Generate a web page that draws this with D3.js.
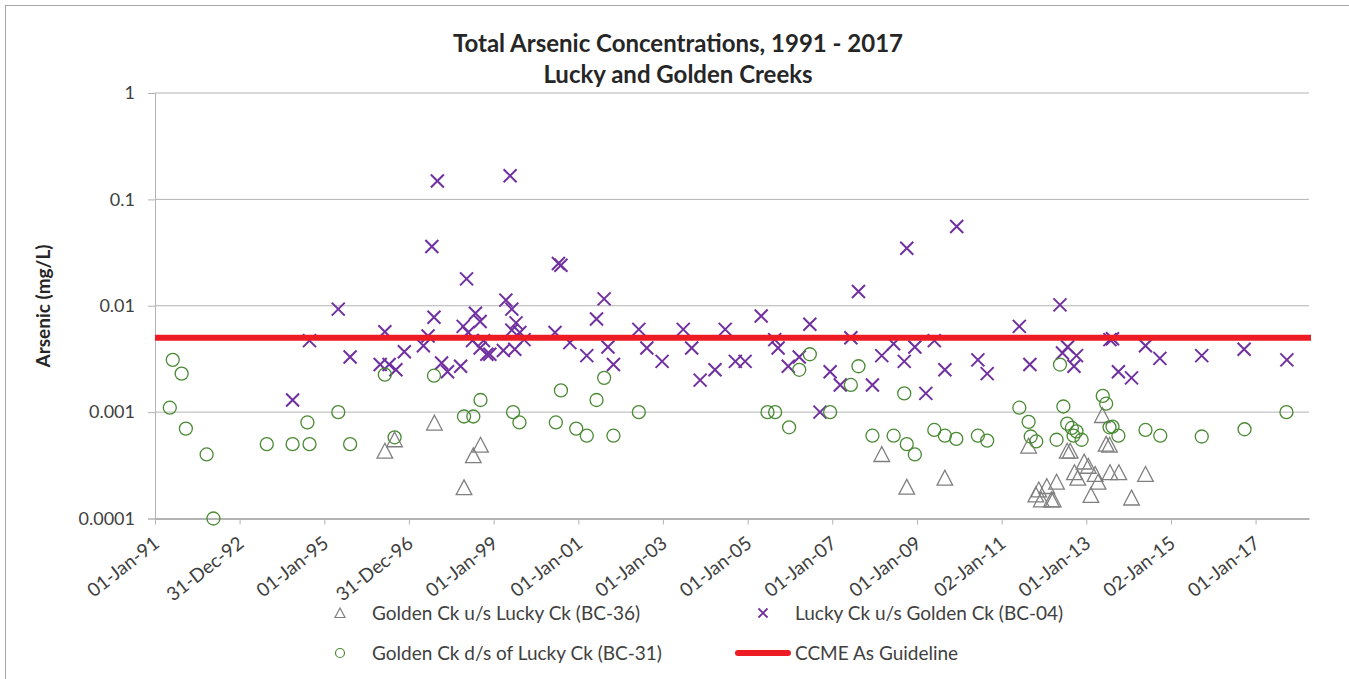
<!DOCTYPE html>
<html>
<head>
<meta charset="utf-8">
<title>Total Arsenic Concentrations</title>
<script src="https://cdn.jsdelivr.net/npm/d3@7/dist/d3.min.js"></script>
<style>
  body { margin: 0; background: #fff; }
  svg text { font-family: Lato, "Open Sans", sans-serif; fill: #404040; }
</style>
</head>
<body>
<svg id="chart" width="1349" height="679"></svg>
<script>
// sample dates as decimal years, values in mg/L
const bc36Years = [1996.43, 1996.66, 1997.60, 1998.30, 1998.52, 1998.69, 2008.17, 2008.76, 2009.66,
  2011.64, 2011.81, 2011.88, 2011.94, 2012.07, 2012.18, 2012.22, 2012.30, 2012.55, 2012.62, 2012.72,
  2012.80, 2012.95, 2013.05, 2013.11, 2013.21, 2013.28, 2013.38, 2013.47, 2013.55, 2013.56, 2013.77,
  2014.07, 2014.40];
const bc36Values = [0.00043, 0.00055, 0.00079, 0.000195, 0.00039, 0.00049, 0.0004, 0.000197, 0.00024,
  0.00048, 0.000167, 0.000186, 0.00015, 0.0002, 0.00015, 0.00015, 0.00022, 0.00043, 0.00043, 0.00027,
  0.00024, 0.00034, 0.00031, 0.000165, 0.00026, 0.00022, 0.00093, 0.0005, 0.00049, 0.00027, 0.00027,
  0.000156, 0.00026];

const bc04Years = [1994.25, 1994.65, 1995.33, 1995.61, 1996.32, 1996.43, 1996.53, 1996.69, 1996.89,
  1997.34, 1997.45, 1997.54, 1997.59, 1997.67, 1997.77, 1997.91, 1998.22, 1998.28, 1998.36, 1998.40,
  1998.50, 1998.57, 1998.68, 1998.68, 1998.76, 1998.84, 1998.91, 1999.23, 1999.29, 1999.39, 1999.43,
  1999.43, 1999.50, 1999.53, 1999.62, 1999.72, 2000.45, 2000.53, 2000.59, 2000.80, 2001.20, 2001.43,
  2001.61, 2001.70, 2001.83, 2002.43, 2002.62, 2002.98, 2003.48, 2003.68, 2003.88, 2004.23, 2004.47,
  2004.71, 2004.94, 2005.32, 2005.64, 2005.72, 2005.96, 2006.22, 2006.47, 2006.71, 2006.95, 2007.19,
  2007.44, 2007.62, 2007.95, 2008.17, 2008.45, 2008.70, 2008.76, 2008.95, 2009.21, 2009.41, 2009.66,
  2009.94, 2010.44, 2010.66, 2011.42, 2011.67, 2012.38, 2012.44, 2012.56, 2012.71, 2012.77, 2013.56,
  2013.62, 2013.76, 2014.07, 2014.40, 2014.74, 2015.73, 2016.73, 2017.74];
const bc04Values = [0.0013, 0.0047, 0.0093, 0.0033, 0.0028, 0.0057, 0.0028, 0.0025, 0.0037,
  0.0042, 0.0052, 0.036, 0.0078, 0.149, 0.0029, 0.0024, 0.0027, 0.0064, 0.0179, 0.0056,
  0.0047, 0.0085, 0.0071, 0.004, 0.0047, 0.0035, 0.0035, 0.0038, 0.0113, 0.167, 0.0093,
  0.0059, 0.0039, 0.0069, 0.0056, 0.0048, 0.0056, 0.025, 0.024, 0.0045, 0.0034, 0.0075,
  0.0116, 0.0041, 0.0028, 0.006, 0.004, 0.003, 0.006, 0.004, 0.002, 0.0025, 0.006,
  0.003, 0.003, 0.008, 0.0048, 0.004, 0.0027, 0.0033, 0.0067, 0.001, 0.0024, 0.0018,
  0.005, 0.0136, 0.0018, 0.0034, 0.0044, 0.003, 0.0347, 0.0041, 0.0015, 0.0047, 0.0025,
  0.0555, 0.0031, 0.0023, 0.0064, 0.0028, 0.0102, 0.0036, 0.0041, 0.0027, 0.0034, 0.0048,
  0.0049, 0.0024, 0.0021, 0.0042, 0.0032, 0.0034, 0.0039, 0.0031];

const bc31Years = [1991.35, 1991.42, 1991.63, 1991.73, 1992.22, 1992.38, 1993.64, 1994.25, 1994.60,
  1994.65, 1995.33, 1995.61, 1996.43, 1996.66, 1997.59, 1998.30, 1998.52, 1998.69, 1999.46, 1999.61,
  2000.47, 2000.59, 2000.95, 2001.20, 2001.43, 2001.61, 2001.83, 2002.43, 2005.47, 2005.65, 2005.98,
  2006.22, 2006.47, 2006.95, 2007.44, 2007.62, 2007.95, 2008.45, 2008.70, 2008.76, 2008.95, 2009.41,
  2009.66, 2009.93, 2010.44, 2010.66, 2011.42, 2011.64, 2011.69, 2011.82, 2012.30, 2012.38, 2012.46,
  2012.55, 2012.66, 2012.70, 2012.77, 2012.89, 2013.39, 2013.47, 2013.55, 2013.62, 2013.76, 2014.40,
  2014.75, 2015.73, 2016.74, 2017.73];
const bc31Values = [0.0011, 0.0031, 0.0023, 0.0007, 0.0004, 0.0001, 0.0005, 0.0005, 0.0008,
  0.0005, 0.001, 0.0005, 0.00225, 0.00058, 0.0022, 0.00091, 0.00091, 0.0013, 0.001, 0.0008,
  0.0008, 0.0016, 0.0007, 0.0006, 0.0013, 0.0021, 0.0006, 0.001, 0.001, 0.001, 0.00072,
  0.0025, 0.0035, 0.001, 0.0018, 0.0027, 0.0006, 0.0006, 0.0015, 0.0005, 0.0004, 0.00068,
  0.0006, 0.00056, 0.0006, 0.00054, 0.0011, 0.00081, 0.00059, 0.00053, 0.00055, 0.0028, 0.00113,
  0.00078, 0.00071, 0.0006, 0.00066, 0.00055, 0.00142, 0.0012, 0.00072, 0.00073, 0.0006, 0.00068,
  0.0006, 0.00059, 0.00069, 0.001];

const guideline = 0.005;
const tickDates = ["1991-01-01", "1992-12-31", "1995-01-01", "1996-12-31", "1999-01-01", "2001-01-01",
  "2003-01-01", "2005-01-01", "2007-01-01", "2009-01-01", "2011-01-02", "2013-01-01", "2015-01-02", "2017-01-01"];
const yTicks = [0.0001, 0.001, 0.01, 0.1, 1];
const yTickLabels = ["0.0001", "0.001", "0.01", "0.1", "1"];

const titleLines = ["Total Arsenic Concentrations, 1991 - 2017", "Lucky and Golden Creeks"];
const legendNames = ["Golden Ck u/s Lucky Ck (BC-36)", "Lucky Ck u/s Golden Ck (BC-04)",
  "Golden Ck d/s of Lucky Ck (BC-31)", "CCME As Guideline"];

// colours
const cTri = "#7f7f7f", cX = "#7030a0", cCirc = "#4a8a34", cRed = "#ed1c24", cGrid = "#b3b3b3";

function yearToDate(y) {
  const yr = Math.floor(y);
  const a = Date.UTC(yr, 0, 1), b = Date.UTC(yr + 1, 0, 1);
  return new Date(a + (y - yr) * (b - a));
}

const svg = d3.select("#chart");
const plot = { left: 155, right: 1309, top: 93, bottom: 518.5 };

const x = d3.scaleUtc()
  .domain([new Date(Date.UTC(1991, 0, 1)), new Date(Date.UTC(2018, 3, 7))])
  .range([plot.left, plot.right]);
const y = d3.scaleLog()
  .domain([0.0001, 1])
  .range([plot.bottom, plot.top]);

// chart border
svg.append("rect")
  .attr("x", 5.5).attr("y", 5.5)
  .attr("width", 1360).attr("height", 700)
  .attr("fill", "none").attr("stroke", "#a6a6a6").attr("stroke-width", 1);

// title
svg.append("g").selectAll("text")
  .data(titleLines)
  .join("text")
  .attr("x", 678)
  .attr("y", (d, i) => 52 + i * 31)
  .attr("text-anchor", "middle")
  .style("font-size", "24px")
  .style("font-weight", "bold")
  .style("fill", "#262626")
  .text(d => d);

// y axis with gridlines
const yAxis = d3.axisLeft(y)
  .tickValues(yTicks)
  .tickFormat((d, i) => yTickLabels[i])
  .tickSize(7)
  .tickPadding(13);
const gy = svg.append("g")
  .attr("transform", `translate(${plot.left},0)`)
  .call(yAxis);
gy.select(".domain").attr("stroke", cGrid);
gy.selectAll(".tick line").attr("stroke", cGrid);
gy.selectAll(".tick text").style("font-size", "18px").style("fill", "#404040").attr("font-family", null);

svg.append("g").selectAll("line")
  .data(yTicks.filter(d => d > 0.0001))
  .join("line")
  .attr("x1", plot.left).attr("x2", plot.right)
  .attr("y1", d => y(d)).attr("y2", d => y(d))
  .attr("stroke", cGrid).attr("stroke-width", 1);

// x axis
const xAxis = d3.axisBottom(x)
  .tickValues(tickDates.map(s => new Date(s + "T00:00:00Z")))
  .tickFormat(d3.utcFormat("%d-%b-%y"))
  .tickSize(6)
  .tickSizeOuter(0);
const gx = svg.append("g")
  .attr("transform", `translate(0,${plot.bottom})`)
  .call(xAxis);
gx.select(".domain").attr("stroke", cGrid).attr("stroke-width", 2);
gx.selectAll(".tick line").attr("stroke", cGrid);
gx.selectAll(".tick text")
  .attr("font-family", null)
  .style("font-size", "19px")
  .style("fill", "#404040")
  .attr("text-anchor", "end")
  .attr("dy", "0.35em")
  .attr("y", 0)
  .attr("transform", "translate(1,22) rotate(-38)");

// y axis title
svg.append("text")
  .attr("transform", "translate(50,306) rotate(-90)")
  .attr("text-anchor", "middle")
  .style("font-size", "19px")
  .style("font-weight", "bold")
  .style("fill", "#262626")
  .text("Arsenic (mg/L)");

// marker paths
const triPath = s => `M0,${-s}L${s},${s * 0.9}L${-s},${s * 0.9}Z`;
const xPath = s => `M${-s},${-s}L${s},${s}M${-s},${s}L${s},${-s}`;

const marks = svg.append("g");

marks.append("g").selectAll("path")
  .data(bc36Years.map((yr, i) => [yearToDate(yr), bc36Values[i]]))
  .join("path")
  .attr("transform", d => `translate(${x(d[0])},${y(d[1])})`)
  .attr("d", triPath(7.8))
  .attr("fill", "none").attr("stroke", cTri).attr("stroke-width", 1.3);

marks.append("g").selectAll("path")
  .data(bc04Years.map((yr, i) => [yearToDate(yr), bc04Values[i]]))
  .join("path")
  .attr("transform", d => `translate(${x(d[0])},${y(d[1])})`)
  .attr("d", xPath(6.5))
  .attr("fill", "none").attr("stroke", cX).attr("stroke-width", 2);

marks.append("g").selectAll("circle")
  .data(bc31Years.map((yr, i) => [yearToDate(yr), bc31Values[i]]))
  .join("circle")
  .attr("cx", d => x(d[0]))
  .attr("cy", d => y(d[1]))
  .attr("r", 6.5)
  .attr("fill", "none").attr("stroke", cCirc).attr("stroke-width", 1.3);

// guideline
svg.append("line")
  .attr("x1", plot.left).attr("x2", plot.right + 2)
  .attr("y1", y(guideline)).attr("y2", y(guideline))
  .attr("stroke", cRed).attr("stroke-width", 6);

// legend
const legendPos = [[340, 613], [763, 613], [340, 653], [763, 653]];
const lg = svg.append("g");
lg.append("path")
  .attr("transform", `translate(${legendPos[0][0]},${legendPos[0][1]})`)
  .attr("d", triPath(5))
  .attr("fill", "none").attr("stroke", cTri).attr("stroke-width", 1.2);
lg.append("path")
  .attr("transform", `translate(${legendPos[1][0]},${legendPos[1][1]})`)
  .attr("d", xPath(4.5))
  .attr("fill", "none").attr("stroke", cX).attr("stroke-width", 1.8);
lg.append("circle")
  .attr("cx", legendPos[2][0]).attr("cy", legendPos[2][1]).attr("r", 4.5)
  .attr("fill", "none").attr("stroke", cCirc).attr("stroke-width", 1.2);
lg.append("line")
  .attr("x1", legendPos[3][0] - 25).attr("x2", legendPos[3][0] + 25)
  .attr("y1", legendPos[3][1]).attr("y2", legendPos[3][1])
  .attr("stroke", cRed).attr("stroke-width", 6).attr("stroke-linecap", "round");
lg.selectAll("text")
  .data(legendNames)
  .join("text")
  .attr("x", (d, i) => legendPos[i][0] + 32)
  .attr("y", (d, i) => legendPos[i][1])
  .attr("dy", "0.35em")
  .style("font-size", "19px")
  .text(d => d);
</script>
</body>
</html>
